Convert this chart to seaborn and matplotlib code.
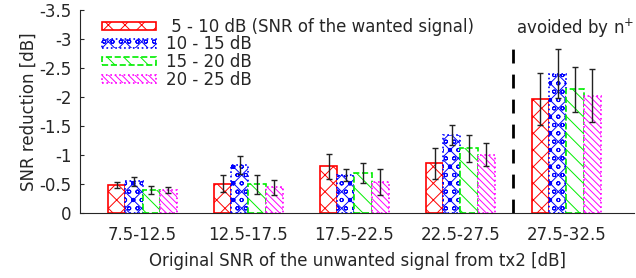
import pandas as pd
import matplotlib.pyplot as plt
import seaborn as sns

categories = ["7.5-12.5", "12.5-17.5", "17.5-22.5", "22.5-27.5", "27.5-32.5"]
series = [" 5 - 10 dB (SNR of the wanted signal)", "10 - 15 dB", "15 - 20 dB", "20 - 25 dB"]
vals_5_10 = [-0.49, -0.51, -0.81, -0.86, -1.97]
vals_10_15 = [-0.55, -0.83, -0.66, -1.35, -2.41]
vals_15_20 = [-0.40, -0.50, -0.70, -1.12, -2.14]
vals_20_25 = [-0.40, -0.45, -0.54, -1.01, -2.03]
err_5_10 = [0.05, 0.15, 0.22, 0.26, 0.45]
err_10_15 = [0.075, 0.16, 0.11, 0.17, 0.43]
err_15_20 = [0.07, 0.16, 0.17, 0.23, 0.39]
err_20_25 = [0.045, 0.13, 0.22, 0.20, 0.46]
ytick_vals = [0, -0.5, -1, -1.5, -2, -2.5, -3, -3.5]
ytick_labels = ["0", "-0.5", "-1", "-1.5", "-2", "-2.5", "-3", "-3.5"]

all_vals = [vals_5_10, vals_10_15, vals_15_20, vals_20_25]
all_errs = [err_5_10, err_10_15, err_15_20, err_20_25]
rows = []
for s, v in zip(series, all_vals):
    for c, y in zip(categories, v):
        rows.append({"group": c, "series": s, "value": y})
df = pd.DataFrame(rows)

sns.set_style("ticks")
plt.rcParams["font.family"] = ["DejaVu Sans"]
plt.rcParams["axes.unicode_minus"] = False
plt.rcParams["hatch.linewidth"] = 0.7

colors = ["#ff0000", "#0000ff", "#00ee00", "#ff00ff"]
hatches = ["xx", "xxoo", "\\\\", "\\\\\\\\\\"]
styles = ["-", ":", "--", ":"]

fig = plt.figure(figsize=(6.36, 2.78), dpi=100)
ax = fig.add_axes([0.1258, 0.2327, 0.8712, 0.7303])

sns.barplot(data=df, x="group", y="value", hue="series", order=categories,
            hue_order=series, width=0.65, gap=0, errorbar=None, legend=False,
            palette=colors, ax=ax)

# white bars with coloured hatch and edge, then the error bars on top
for cont, col, h, ls, err in zip(ax.containers, colors, hatches, styles, all_errs):
    xs = []
    ys = []
    for bar in cont:
        bar.set_facecolor("white")
        bar.set_edgecolor(col)
        bar.set_hatch(h)
        bar.set_linestyle(ls)
        bar.set_linewidth(1.2)
        xs.append(bar.get_x() + bar.get_width() / 2)
        ys.append(bar.get_y() + bar.get_height())
    ax.errorbar(xs, ys, yerr=err, fmt="none", ecolor="#222222", elinewidth=1,
                capsize=2.5, capthick=1)

ax.legend(ax.containers, series, loc="upper left", bbox_to_anchor=(0.04, 0.963),
          frameon=False, borderpad=0, borderaxespad=0, fontsize=12,
          handlelength=3.2, handleheight=0.42, handletextpad=0.6, labelspacing=-0.02)

ax.plot([3.5, 3.5], [0, -2.95], color="black", lw=2, dashes=(5, 4))
ax.text(3.53, -3.19, "avoided by n$^{+}$", fontsize=12, va="center", ha="left")

ax.set_xlim(-0.59, 4.64)
ax.set_ylim(0, -3.5)
ax.set_yticks(ytick_vals)
ax.set_yticklabels(ytick_labels)
ax.tick_params(axis="y", direction="in", length=3, labelsize=12, pad=6)
ax.tick_params(axis="x", length=0, labelsize=12, pad=9)
ax.set_xlabel("Original SNR of the unwanted signal from tx2 [dB]", fontsize=12, labelpad=6)
ax.set_ylabel("SNR reduction [dB]", fontsize=12, labelpad=1)
sns.despine(ax=ax)

fig.savefig("out.png", dpi=100)
